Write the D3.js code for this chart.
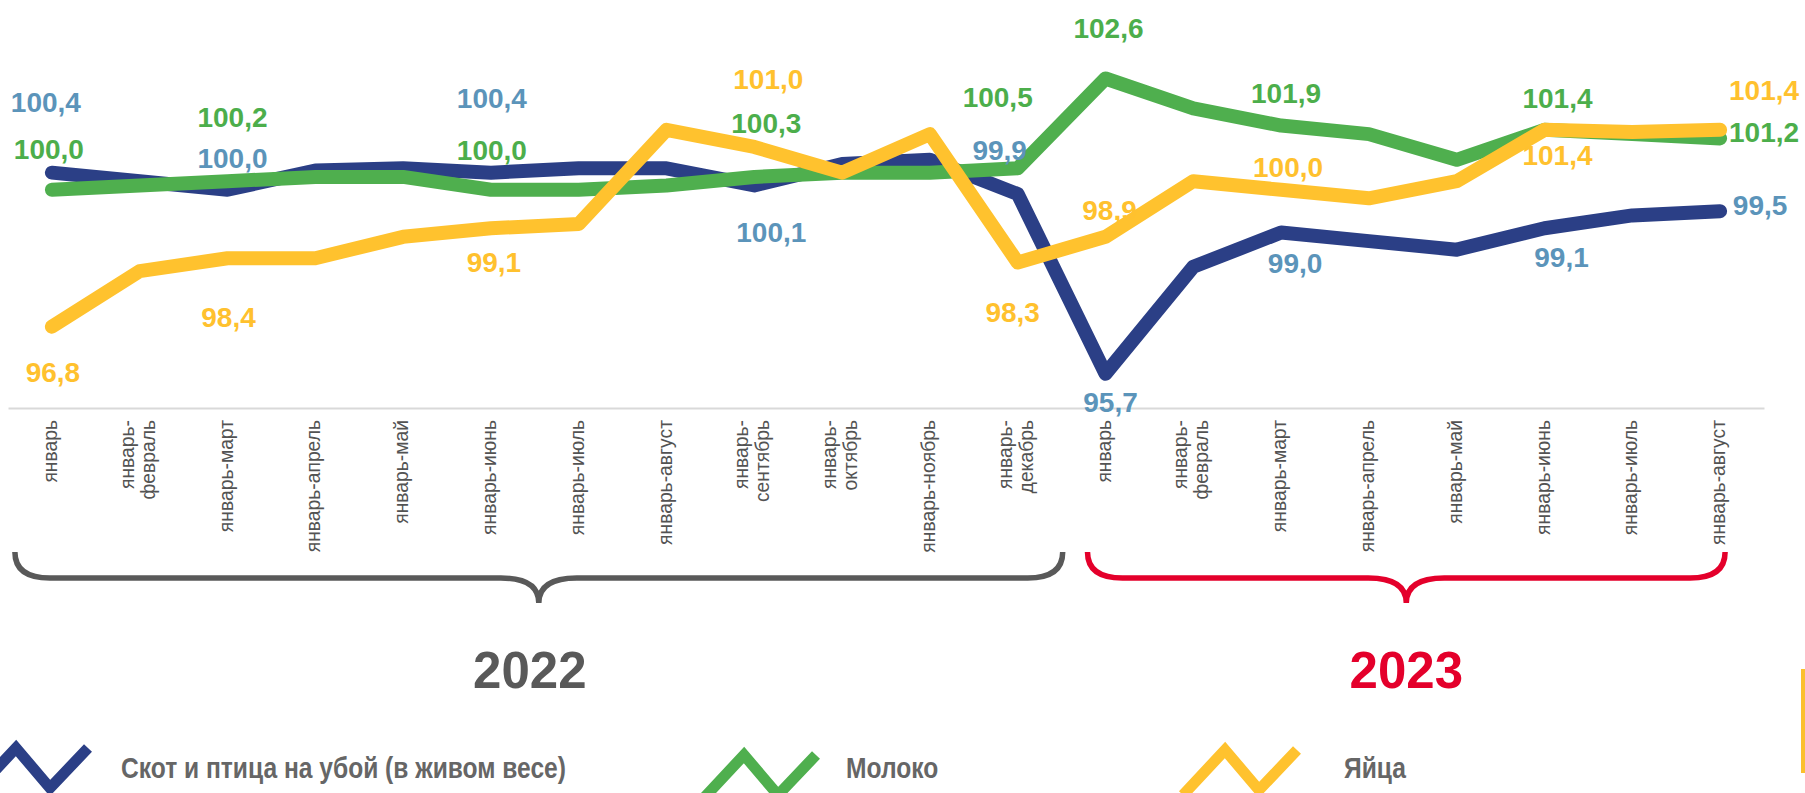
<!DOCTYPE html>
<html>
<head>
<meta charset="utf-8">
<script src="https://cdn.jsdelivr.net/npm/d3@7"></script>
<style>
  body { margin: 0; background: #fff; overflow: hidden; }
  svg { display: block; font-family: "Liberation Sans", Arial, sans-serif; }
</style>
</head>
<body>
<script>
var width = 1805,
    height = 793;

// categories (x axis), "\n" marks a line break in the tick label
var categories = [
    "январь", "январь-\nфевраль", "январь-март", "январь-апрель", "январь-май", "январь-июнь",
    "январь-июль", "январь-август", "январь-\nсентябрь", "январь-\nоктябрь", "январь-ноябрь", "январь-\nдекабрь",
    "январь", "январь-\nфевраль", "январь-март", "январь-апрель", "январь-май", "январь-июнь",
    "январь-июль", "январь-август"
];

// series values
var cattle = [100.4, 100.2, 100.0, 100.45, 100.5, 100.4, 100.5, 100.5, 100.1, 100.6, 100.7, 99.9,
              95.7, 98.2, 99.0, 98.8, 98.6, 99.1, 99.4, 99.5];
var milk   = [100.0, 100.1, 100.2, 100.3, 100.3, 100.0, 100.0, 100.1, 100.3, 100.4, 100.4, 100.5,
              102.6, 101.9, 101.5, 101.3, 100.7, 101.4, 101.3, 101.2];
var eggs   = [96.8, 98.1, 98.4, 98.4, 98.9, 99.1, 99.2, 101.4, 101.0, 100.4, 101.3, 98.3,
              98.9, 100.2, 100.0, 99.8, 100.2, 101.4, 101.35, 101.4];

var seriesNames = ["Скот и птица на убой (в живом весе)", "Молоко", "Яйца"];

// data labels as printed on the chart
var labelIdx     = [0, 2, 5, 8, 11, 12, 14, 17, 19];
var cattleLabels = ["100,4", "100,0", "100,4", "100,1", "99,9", "95,7", "99,0", "99,1", "99,5"];
var milkLabels   = ["100,0", "100,2", "100,0", "100,3", "100,5", "102,6", "101,9", "101,4", "101,2"];
var eggsLabels   = ["96,8", "98,4", "99,1", "101,0", "98,3", "98,9", "100,0", "101,4", "101,4"];

// year groups: first and last category index
var years = ["2022", "2023"];
var yearFrom = [0, 12];
var yearTo = [11, 19];

// ---- layout / style (kept apart from the data) ----
var colors = ["#2B3F86", "#4FAF4E", "#FFC22E"];
var labelColors = ["#5B94BA", "#4CAE4B", "#FFC12E"];
var yearColors = ["#595959", "#E4002B"];

// label nudges [dx, dy] from the point, as they were dragged in the original
var cattleShift = [[-6, -61], [5, -22], [1, -65], [17, 57], [-18, -34], [5, 38], [14, 40], [17, 39], [40, 4]];
var milkShift   = [[-3, -31], [5, -54], [1, -30], [12, -44], [-20, -61], [3, -41], [5, -23], [13, -22], [44, 4]];
var eggsShift   = [[1, 55], [1, 69], [3, 44], [14, -58], [-5, 59], [4, -17], [7, -13], [13, 35], [44, -30]];

var svg = d3.select("body").append("svg")
    .attr("width", width)
    .attr("height", height);

var axisY = 408;

var x = d3.scaleBand()
    .domain(d3.range(categories.length))
    .range([8, 1764])
    .padding(0);

var cx = function(i) { return x(i) + x.bandwidth() / 2; };

var y = d3.scaleLinear()
    .domain([94.9, 102.6])
    .range([axisY, 78.5]);

// x axis with rotated category labels
var gx = svg.append("g")
    .attr("transform", "translate(0," + axisY + ")")
    .call(d3.axisBottom(x).tickSize(0).tickFormat(function(i) { return categories[i]; }));

gx.select(".domain")
    .attr("stroke", "#D9D9D9")
    .attr("stroke-width", 2);

gx.selectAll(".tick text").each(function(i) {
    var t = d3.select(this);
    var lines = categories[i].split("\n");
    t.text(null)
        .attr("dy", null)
        .attr("y", null)
        .attr("transform", "translate(0,12) rotate(-90)")
        .attr("text-anchor", "end")
        .attr("font-family", "'Liberation Sans', Arial, sans-serif")
        .attr("font-size", 19.3)
        .attr("fill", "#535353");
    lines.forEach(function(line, k) {
        var off = lines.length === 1 ? 5 : (k === 0 ? -6 : 15);
        t.append("tspan").attr("x", 0).attr("y", off).text(line);
    });
});

// lines
var line = d3.line()
    .x(function(d, i) { return cx(i); })
    .y(function(d) { return y(d); });

var allSeries = [cattle, milk, eggs];
var allLabels = [cattleLabels, milkLabels, eggsLabels];
var allShift = [cattleShift, milkShift, eggsShift];

allSeries.forEach(function(values, s) {
    svg.append("path")
        .datum(values)
        .attr("d", line)
        .attr("fill", "none")
        .attr("stroke", colors[s])
        .attr("stroke-width", 14)
        .attr("stroke-linecap", "round")
        .attr("stroke-linejoin", "round");
});

// data labels
allSeries.forEach(function(values, s) {
    svg.append("g").selectAll("text")
        .data(labelIdx)
        .enter().append("text")
        .attr("x", function(i, k) { return cx(i) + allShift[s][k][0]; })
        .attr("y", function(i, k) { return y(values[i]) + allShift[s][k][1]; })
        .attr("text-anchor", "middle")
        .attr("font-size", 28)
        .attr("font-weight", "bold")
        .attr("fill", labelColors[s])
        .text(function(i, k) { return allLabels[s][k]; });
});

// year braces
var braceEnds = [[-37, 45], [-18, 5]];
var yearShift = [-9, 0];
var braceTop = 552, braceMid = 578, braceTip = 603;

var bracePath = function(x0, x1) {
    var xc = (x0 + x1) / 2;
    return "M" + x0 + "," + braceTop +
        "Q" + x0 + "," + braceMid + " " + (x0 + 35) + "," + braceMid +
        "L" + (xc - 38) + "," + braceMid +
        "Q" + xc + "," + braceMid + " " + xc + "," + braceTip +
        "Q" + xc + "," + braceMid + " " + (xc + 38) + "," + braceMid +
        "L" + (x1 - 35) + "," + braceMid +
        "Q" + x1 + "," + braceMid + " " + x1 + "," + braceTop;
};

years.forEach(function(yr, k) {
    var x0 = cx(yearFrom[k]) + braceEnds[k][0];
    var x1 = cx(yearTo[k]) + braceEnds[k][1];
    svg.append("path")
        .attr("d", bracePath(x0, x1))
        .attr("fill", "none")
        .attr("stroke", yearColors[k])
        .attr("stroke-width", 5.5);
    svg.append("text")
        .attr("x", (x0 + x1) / 2 + yearShift[k])
        .attr("y", 688)
        .attr("text-anchor", "middle")
        .attr("font-size", 51)
        .attr("font-weight", "bold")
        .attr("fill", yearColors[k])
        .text(yr);
});

// legend
var legendIcon = [[-26, 748], [702, 755], [1183, 750]];
var legendText = [121, 846, 1344];
var zig = [[0, 45], [42, 0], [76, 40], [114, 0]];

seriesNames.forEach(function(name, s) {
    svg.append("polyline")
        .attr("points", zig.map(function(p) {
            return (p[0] + legendIcon[s][0]) + "," + (p[1] + legendIcon[s][1]);
        }).join(" "))
        .attr("fill", "none")
        .attr("stroke", colors[s])
        .attr("stroke-width", 11)
        .attr("stroke-linejoin", "miter");
    svg.append("text")
        .attr("transform", "translate(" + legendText[s] + ",778) scale(0.82,1)")
        .attr("font-size", 30)
        .attr("font-weight", "bold")
        .attr("fill", "#666666")
        .text(name);
});

// thin yellow edge bar at the right
svg.append("rect")
    .attr("x", 1801).attr("y", 669)
    .attr("width", 4).attr("height", 104)
    .attr("fill", "#FBC02D");
</script>
</body>
</html>
